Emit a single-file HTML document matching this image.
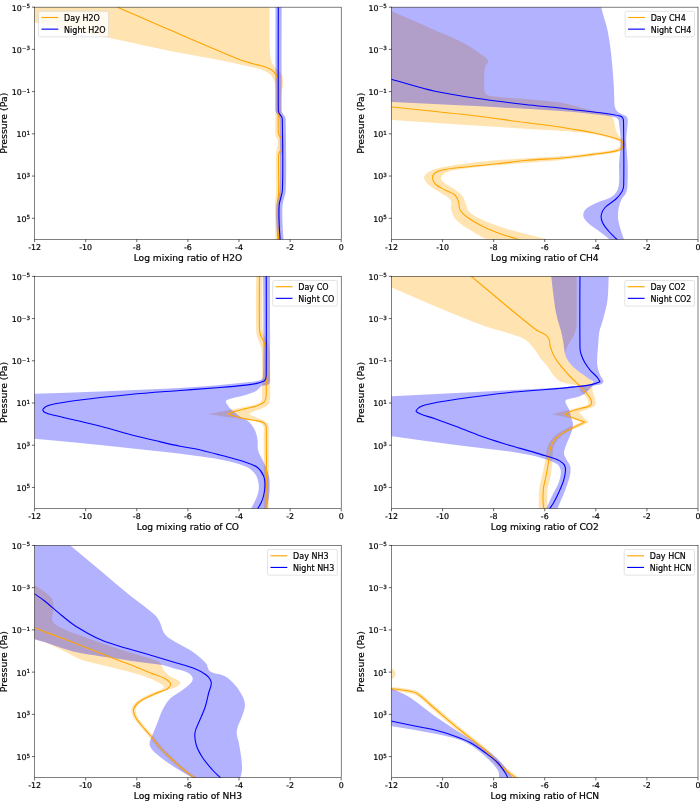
<!DOCTYPE html>
<html lang="en"><head><meta charset="utf-8"><title>Mixing ratio profiles</title>
<style>html,body{margin:0;padding:0;background:#fff}svg{display:block}text{font-family:'DejaVu Sans','Liberation Sans',sans-serif;fill:#000;stroke:#000;stroke-width:0.2px}</style></head><body>
<svg width="700" height="801" viewBox="0 0 700 801">
<rect width="700" height="801" fill="#fff"/>
<g>
<clipPath id="c0"><rect x="34.6" y="7.15" width="306.6" height="232.25"/></clipPath>
<g clip-path="url(#c0)">
<path d="M20 0L269.7 0C269.7 0 269.62 26.67 269.7 40C269.72 44 269.74 48.01 270 52C270.17 54.68 270.36 57.39 271 60C271.44 61.77 272.28 63.43 273.2 65C273.96 66.29 274.96 67.43 276 68.5C277.23 69.77 278.84 70.66 280 72C281.03 73.19 282.05 74.49 282.5 76C283.08 77.92 283 79.99 283 82C283 84.01 282.8 86.02 282.5 88C282.3 89.36 281.59 90.63 281.5 92C281.09 97.99 281.08 104 281 110C280.91 117.33 280.5 124.68 281 132C281.17 134.42 282.45 136.64 283 139C283.46 140.98 284 142.97 284 145C284 147.36 283.62 149.73 283 152C282.61 153.44 281.07 154.51 281 156C280.4 167.99 281.24 180 281 192C280.91 196.35 280 200.65 280 205C280 218.34 281 245 281 245L275.5 245C275.5 245 274.87 218.33 275 205C275.04 200.65 275.91 196.35 276 192C276.24 180 275.86 168 276 156C276.02 153.99 276.22 151.99 276.5 150C276.88 147.31 278.17 144.71 278 142C277.83 139.37 275.62 137.13 275.5 134.5C274.78 119.02 275.93 103.49 275.5 88C275.43 85.48 274.98 82.92 274 80.6C272.98 78.19 271.65 75.72 269.6 74.1C266.59 71.73 262.94 70.18 259.3 69C253.02 66.96 246.45 65.93 240 64.5C233.35 63.03 226.68 61.64 220 60.3C215.01 59.3 210 58.43 205 57.5C193.33 55.33 181.62 53.38 170 51C149.12 46.72 128.36 41.89 107.5 37.5C83.19 32.39 58.83 27.51 34.5 22.5C29.67 21.51 20 19.5 20 19.5L20 0Z" fill="#ffa500" fill-opacity="0.3"/>
<path d="M281.7 0C281.7 0 281.47 73.67 281.7 110.5C281.71 111.37 281.99 112.24 282.4 113C283.07 114.27 284.21 115.24 284.9 116.5C285.32 117.27 285.69 118.13 285.7 119C285.99 142.66 286.65 166.35 285.8 190C285.62 195.11 283.07 199.91 282.6 205C281.99 211.64 282.43 218.34 282.6 225C282.73 229.77 283.29 234.53 283.5 239.3C283.59 241.2 283.5 245 283.5 245L277.3 245C277.3 245 277.39 241.2 277.3 239.3C277.09 234.53 276.53 229.77 276.4 225C276.23 218.34 275.79 211.64 276.4 205C276.87 199.91 279.42 195.11 279.6 190C280.45 166.35 279.79 142.66 279.5 119C279.49 118.13 279.12 117.27 278.7 116.5C278.01 115.24 276.87 114.27 276.2 113C275.79 112.24 275.51 111.37 275.5 110.5C275.27 73.67 275.5 0 275.5 0L281.7 0Z" fill="#0000ff" fill-opacity="0.3"/>
<path d="M117.5 7.2C117.5 7.2 152.47 22.47 170 30C192.47 39.65 214.86 49.5 237.5 58.75C242.21 60.67 247.12 62.06 252 63.5C256.46 64.81 261.14 65.38 265.5 67C268.37 68.07 271.19 69.49 273.5 71.5C275.14 72.93 276.31 74.94 277 77C277.85 79.55 277.91 82.31 278 85C278.31 93.99 278.14 103 278.2 112C278.24 118.67 277.94 125.34 278.3 132C278.38 133.39 278.88 134.75 279.5 136C280.13 137.29 281.67 138.1 282 139.5C282.64 142.26 282.86 145.22 282.3 148C281.98 149.6 280.26 150.56 279.5 152C279.01 152.92 278.62 153.96 278.6 155C278.32 167.66 278.9 180.34 278.6 193C278.5 197.02 277.53 200.98 277.4 205C277.19 211.66 277.37 218.34 277.6 225C277.77 229.78 278.36 234.53 278.6 239.3C278.69 241.2 278.6 245 278.6 245" fill="none" stroke="#ffa500" stroke-width="1.1" stroke-linejoin="round"/>
<path d="M278.3 0C278.3 0 278.07 73.67 278.3 110.5C278.31 111.37 278.59 112.24 279 113C279.67 114.27 280.81 115.24 281.5 116.5C281.92 117.27 282.29 118.13 282.3 119C282.59 142.66 283.25 166.35 282.4 190C282.22 195.11 279.67 199.91 279.2 205C278.59 211.64 279.03 218.34 279.2 225C279.33 229.77 279.89 234.53 280.1 239.3C280.19 241.2 280.1 245 280.1 245" fill="none" stroke="#0000ff" stroke-width="1.1" stroke-linejoin="round"/>
</g>
<path d="M34.6 7.15h-2.7M34.6 49.38h-2.7M34.6 91.6h-2.7M34.6 133.83h-2.7M34.6 176.06h-2.7M34.6 218.29h-2.7M34.6 239.4v2.7M85.7 239.4v2.7M136.8 239.4v2.7M187.9 239.4v2.7M239 239.4v2.7M290.1 239.4v2.7M341.2 239.4v2.7" stroke="#000" stroke-width="0.6" fill="none"/>
<rect x="34.6" y="7.15" width="306.6" height="232.25" fill="none" stroke="#000" stroke-width="0.5"/>
<text x="30" y="10.55" font-size="7.9" text-anchor="end">10<tspan dy="-2.4" font-size="5.6">−5</tspan></text>
<text x="30" y="52.78" font-size="7.9" text-anchor="end">10<tspan dy="-2.4" font-size="5.6">−3</tspan></text>
<text x="30" y="95" font-size="7.9" text-anchor="end">10<tspan dy="-2.4" font-size="5.6">−1</tspan></text>
<text x="30" y="137.23" font-size="7.9" text-anchor="end">10<tspan dy="-2.4" font-size="5.6">1</tspan></text>
<text x="30" y="179.46" font-size="7.9" text-anchor="end">10<tspan dy="-2.4" font-size="5.6">3</tspan></text>
<text x="30" y="221.69" font-size="7.9" text-anchor="end">10<tspan dy="-2.4" font-size="5.6">5</tspan></text>
<text x="34.6" y="249.7" font-size="7.9" text-anchor="middle">-12</text>
<text x="85.7" y="249.7" font-size="7.9" text-anchor="middle">-10</text>
<text x="136.8" y="249.7" font-size="7.9" text-anchor="middle">-8</text>
<text x="187.9" y="249.7" font-size="7.9" text-anchor="middle">-6</text>
<text x="239" y="249.7" font-size="7.9" text-anchor="middle">-4</text>
<text x="290.1" y="249.7" font-size="7.9" text-anchor="middle">-2</text>
<text x="341.2" y="249.7" font-size="7.9" text-anchor="middle">0</text>
<text x="187.9" y="261" font-size="9.15" text-anchor="middle">Log mixing ratio of H2O</text>
<text transform="translate(7 123.28) rotate(-90)" font-size="9.35" text-anchor="middle">Pressure (Pa)</text>
<rect x="38.5" y="11.25" width="70.1" height="25.6" rx="1.5" ry="1.5" fill="#fff" fill-opacity="0.8" stroke="#d0d0d0" stroke-width="0.6"/>
<path d="M41.5 17.5h16.8" stroke="#ffa500" stroke-width="1.15" fill="none"/>
<text x="64.1" y="21" font-size="8.0">Day H2O</text>
<path d="M41.5 29.15h16.8" stroke="#0000ff" stroke-width="1.15" fill="none"/>
<text x="64.1" y="32.65" font-size="8.0">Night H2O</text>
</g>
<g>
<clipPath id="c1"><rect x="391.5" y="7.15" width="306.5" height="232.25"/></clipPath>
<g clip-path="url(#c1)">
<path d="M380 6.5C380 6.5 388.04 9.56 392 11.25C401.38 15.26 410.67 19.47 420 23.6C426.67 26.55 433.31 29.59 440 32.5C444.97 34.66 450.1 36.47 455 38.8C460.12 41.24 465.14 43.88 470 46.8C474.15 49.29 478.18 52.02 482 55C484.27 56.77 487.33 58.26 488.2 61C488.77 62.8 486.12 64.21 485.5 66C484.84 67.92 484.49 69.97 484.4 72C484.13 77.99 483.84 84.03 484.4 90C484.55 91.65 485.19 93.49 486.5 94.5C488.15 95.77 490.43 96.02 492.5 96.25C514.96 98.7 537.61 99.47 560 102.5C568.51 103.65 576.67 106.67 585 108.75C590 110 595.01 111.2 600 112.5C602.98 113.28 606.13 113.66 608.9 115C610.71 115.88 612.48 117.22 613.4 119C614.65 121.42 614.43 124.36 615.1 127C615.59 128.93 616 130.92 616.9 132.7C617.76 134.4 619.01 135.9 620.3 137.3C621.29 138.38 622.66 139.06 623.7 140.1C624.57 140.97 625.55 141.85 626 143C626.36 143.93 626.38 145.08 626 146C625.5 147.2 624.53 148.2 623.5 149C622.18 150.03 620.68 150.86 619.1 151.4C616.15 152.41 613.08 153.07 610 153.6C604.33 154.57 598.6 155.16 592.9 155.9C585.27 156.89 577.63 157.8 570 158.8C566.66 159.24 563.35 159.91 560 160.2C535.01 162.39 509.98 163.98 485 166.25C475.81 167.08 466.61 168.03 457.5 169.5C453.67 170.12 449.73 170.79 446.25 172.5C444.14 173.54 441.82 175.21 441.25 177.5C440.8 179.31 442.36 181.25 443.75 182.5C446.67 185.13 450.58 186.43 453.75 188.75C456.85 191.02 460.16 193.21 462.5 196.25C464.43 198.77 465.03 202.07 466.25 205C467.11 207.07 467.16 209.66 468.75 211.25C471.94 214.44 475.94 216.79 480 218.75C487.25 222.24 494.87 224.96 502.5 227.5C509.88 229.96 517.48 231.76 525 233.75C531.64 235.51 538.38 236.9 545 238.75C547.06 239.32 551 241 551 241L489 241C489 241 486.32 239.52 485 238.75C479.99 235.85 474.85 233.16 470 230C465.25 226.9 460.13 224.13 456.25 220C453.7 217.28 452.28 213.58 451.25 210C450.33 206.79 452.31 202.81 450.5 200C448.17 196.38 443.54 194.94 440 192.5C436.29 189.94 432.15 187.96 428.75 185C426.82 183.31 425.15 181.15 424.25 178.75C423.8 177.56 424.13 175.93 425 175C427.06 172.81 429.7 171.09 432.5 170C437.3 168.13 442.42 167.1 447.5 166.25C459.94 164.18 472.44 162.36 485 161.25C509.96 159.04 535 158.02 560 156.3C563.34 156.07 566.67 155.76 570 155.4C577.64 154.56 585.27 153.65 592.9 152.7C598.61 151.99 604.35 151.46 610 150.4C612.74 149.89 615.52 149.27 618 148C619.16 147.4 620.4 146.3 620.5 145C620.6 143.6 619.67 142.08 618.5 141.3C615.97 139.61 612.92 138.83 610 138C604.37 136.39 598.67 134.99 592.9 134C586.98 132.99 580.98 132.58 575 132C570.01 131.51 565.01 131.13 560 130.8C548.34 130.04 536.66 129.5 525 128.75C480.66 125.9 436.33 122.92 392 120C388 119.74 380 119.2 380 119.2L380 6.5Z" fill="#ffa500" fill-opacity="0.3"/>
<path d="M380 0L601.25 0C601.25 0 600.76 4.85 601.25 7.2C602.86 14.91 605.89 22.29 607.5 30C609.23 38.25 610.3 46.63 611.25 55C612.38 64.97 613.07 74.99 613.75 85C614.09 89.99 614.05 95 614.3 100C614.4 102.14 614.31 104.32 614.8 106.4C615.19 108.04 615.79 109.73 616.9 111C618.08 112.34 619.84 113.03 621.4 113.9C622.88 114.73 624.69 115.02 626 116.1C626.85 116.8 627.36 117.92 627.6 119C627.94 120.5 627.8 122.07 627.7 123.6C627.33 129.31 626.2 134.98 626.2 140.7C626.2 148.35 627.48 155.95 627.7 163.6C627.91 170.73 627.86 177.88 627.5 185C627.37 187.53 627.22 190.16 626.25 192.5C625.09 195.27 622.59 197.31 621.25 200C620.07 202.36 619.23 204.91 618.75 207.5C618.14 210.79 617.79 214.16 618 217.5C618.21 220.89 619.11 224.22 620 227.5C621.03 231.32 622.5 235 623.75 238.75C624 239.5 624.5 241 624.5 241L611 241C611 241 609.57 239.42 608.75 238.75C605.07 235.75 601.27 232.89 597.5 230C594.19 227.47 590.42 225.47 587.5 222.5C585.59 220.55 583.5 218.22 583.25 215.5C583.03 213.05 584.43 210.41 586.25 208.75C589.42 205.86 593.63 204.34 597.5 202.5C602.39 200.17 608.14 199.47 612.5 196.25C615.46 194.07 617.77 190.6 618.5 187C620.05 179.35 618.73 171.39 619.1 163.6C619.46 155.96 620.7 148.35 620.7 140.7C620.7 134.98 619.71 129.29 619.1 123.6C618.97 122.39 619.16 121.02 618.5 120C617.7 118.77 616.44 117.6 615 117.3C605.94 115.4 596.69 114.55 587.5 113.5C578.36 112.45 569.18 111.63 560 111C535.01 109.29 510.01 107.84 485 106.5C454.01 104.84 423 103.51 392 102C388 101.81 380 101.4 380 101.4L380 0Z" fill="#0000ff" fill-opacity="0.3"/>
<path d="M380 105.8C380 105.8 388 106.58 392 107C418.84 109.81 445.7 112.38 472.5 115.5C490.04 117.54 507.5 120.2 525 122.5C536.66 124.03 548.35 125.39 560 127C563.35 127.46 566.67 128.12 570 128.7C577.64 130.02 585.3 131.18 592.9 132.7C598.64 133.85 604.34 135.21 610 136.7C613.08 137.51 616.18 138.33 619.1 139.6C620.43 140.18 621.67 141.08 622.6 142.2C623.18 142.9 623.4 143.89 623.4 144.8C623.4 145.64 623.14 146.56 622.6 147.2C621.65 148.33 620.47 149.37 619.1 149.9C616.19 151.03 613.08 151.57 610 152.1C604.33 153.07 598.6 153.66 592.9 154.4C585.27 155.39 577.64 156.39 570 157.3C566.67 157.69 563.34 158.06 560 158.3C548.34 159.13 536.65 159.48 525 160.5C515.8 161.3 506.68 162.76 497.5 163.75C485.01 165.1 472.48 166.08 460 167.5C454.15 168.17 448.25 168.73 442.5 170C439.87 170.58 437.15 171.38 435 173C433.63 174.03 432.5 175.78 432.5 177.5C432.5 179.74 433.41 182.16 435 183.75C437.78 186.53 441.57 188.07 445 190C448.25 191.83 452.24 192.49 455 195C457.07 196.88 457.87 199.85 458.75 202.5C459.55 204.9 458.72 207.81 460 210C461.78 213.05 464.6 215.47 467.5 217.5C473 221.35 478.96 224.56 485 227.5C490.65 230.24 496.59 232.37 502.5 234.5C507.01 236.12 511.7 237.23 516.25 238.75C518.2 239.4 522 241 522 241" fill="none" stroke="#ffa500" stroke-width="1.1" stroke-linejoin="round"/>
<path d="M380 76C380 76 387.98 78.39 392 79.5C406.32 83.47 420.47 88.13 435 91.25C451.51 94.8 468.29 97.04 485 99.5C498.29 101.46 511.65 102.99 525 104.5C536.65 105.82 548.34 106.76 560 108C563.34 108.36 566.66 108.9 570 109.3C581.43 110.67 592.89 111.76 604.3 113.3C609.67 114.03 615.05 114.77 620.3 116.1C621.31 116.36 622.25 117.11 622.8 118C623.39 118.96 623.48 120.18 623.5 121.3C623.79 142.53 624.09 163.77 623.7 185C623.66 187.14 623.22 189.37 622.2 191.25C620.68 194.06 618.57 196.56 616.25 198.75C612.8 202.01 608.22 204.01 605 207.5C603.1 209.55 601.71 212.24 601.25 215C600.83 217.5 601.44 220.2 602.5 222.5C604 225.75 606.43 228.51 608.75 231.25C611.03 233.95 613.75 236.25 616.25 238.75C617 239.5 618.5 241 618.5 241" fill="none" stroke="#0000ff" stroke-width="1.1" stroke-linejoin="round"/>
</g>
<path d="M391.5 7.15h-2.7M391.5 49.38h-2.7M391.5 91.6h-2.7M391.5 133.83h-2.7M391.5 176.06h-2.7M391.5 218.29h-2.7M391.5 239.4v2.7M442.58 239.4v2.7M493.67 239.4v2.7M544.75 239.4v2.7M595.83 239.4v2.7M646.92 239.4v2.7M698 239.4v2.7" stroke="#000" stroke-width="0.6" fill="none"/>
<rect x="391.5" y="7.15" width="306.5" height="232.25" fill="none" stroke="#000" stroke-width="0.5"/>
<text x="386.9" y="10.55" font-size="7.9" text-anchor="end">10<tspan dy="-2.4" font-size="5.6">−5</tspan></text>
<text x="386.9" y="52.78" font-size="7.9" text-anchor="end">10<tspan dy="-2.4" font-size="5.6">−3</tspan></text>
<text x="386.9" y="95" font-size="7.9" text-anchor="end">10<tspan dy="-2.4" font-size="5.6">−1</tspan></text>
<text x="386.9" y="137.23" font-size="7.9" text-anchor="end">10<tspan dy="-2.4" font-size="5.6">1</tspan></text>
<text x="386.9" y="179.46" font-size="7.9" text-anchor="end">10<tspan dy="-2.4" font-size="5.6">3</tspan></text>
<text x="386.9" y="221.69" font-size="7.9" text-anchor="end">10<tspan dy="-2.4" font-size="5.6">5</tspan></text>
<text x="391.5" y="249.7" font-size="7.9" text-anchor="middle">-12</text>
<text x="442.58" y="249.7" font-size="7.9" text-anchor="middle">-10</text>
<text x="493.67" y="249.7" font-size="7.9" text-anchor="middle">-8</text>
<text x="544.75" y="249.7" font-size="7.9" text-anchor="middle">-6</text>
<text x="595.83" y="249.7" font-size="7.9" text-anchor="middle">-4</text>
<text x="646.92" y="249.7" font-size="7.9" text-anchor="middle">-2</text>
<text x="698" y="249.7" font-size="7.9" text-anchor="middle">0</text>
<text x="544.75" y="261" font-size="9.15" text-anchor="middle">Log mixing ratio of CH4</text>
<text transform="translate(363.9 123.28) rotate(-90)" font-size="9.35" text-anchor="middle">Pressure (Pa)</text>
<rect x="625.1" y="11.25" width="69.4" height="25.6" rx="1.5" ry="1.5" fill="#fff" fill-opacity="0.8" stroke="#d0d0d0" stroke-width="0.6"/>
<path d="M628.1 17.5h16.8" stroke="#ffa500" stroke-width="1.15" fill="none"/>
<text x="650.7" y="21" font-size="8.0">Day CH4</text>
<path d="M628.1 29.15h16.8" stroke="#0000ff" stroke-width="1.15" fill="none"/>
<text x="650.7" y="32.65" font-size="8.0">Night CH4</text>
</g>
<g>
<clipPath id="c2"><rect x="34.6" y="276.35" width="306.6" height="232.2"/></clipPath>
<g clip-path="url(#c2)">
<path d="M262.5 270C262.5 270 261.91 308.68 262.5 328C262.58 330.75 263.59 333.41 264.5 336C265.59 339.1 267.77 341.8 268.5 345C269.62 349.9 269.83 354.98 270 360C270.4 371.66 270.23 383.33 270.2 395C270.2 396.84 270.24 398.7 269.9 400.5C269.63 401.93 269.44 403.58 268.4 404.6C266.55 406.43 264.06 407.51 261.7 408.6C259.14 409.79 256.3 410.29 253.7 411.4C252.08 412.09 249.1 414 249.1 414C249.1 414 252.12 415.62 253.7 416.3C256.33 417.43 259.13 418.14 261.7 419.4C263.65 420.35 265.6 421.43 267.2 422.9C267.97 423.6 268.42 424.67 268.6 425.7C268.95 427.77 268.75 429.9 268.75 432C268.8 459.33 268.75 514 268.75 514L263.75 514C263.75 514 263.83 459.33 263.75 432C263.74 430.16 264.27 428.17 263.5 426.5C262.71 424.79 261.13 423.36 259.4 422.6C256.17 421.19 252.56 420.89 249.1 420.2C245.32 419.45 241.51 418.85 237.7 418.3C232.78 417.59 227.82 417.11 222.9 416.4C217.92 415.68 208 414 208 414C208 414 223.28 411.18 230.9 409.7C233.94 409.11 236.96 408.42 240 407.8C243.8 407.02 247.65 406.49 251.4 405.5C254.13 404.78 256.96 404.13 259.4 402.7C260.57 402.01 261.53 400.73 261.8 399.4C262.43 396.33 262.01 393.13 262 390C261.95 376.67 262.53 363.3 261.6 350C261.36 346.52 259.49 343.35 258.5 340C257.71 337.34 256.34 334.77 256.25 332C255.59 311.34 256.25 270 256.25 270L262.5 270Z" fill="#ffa500" fill-opacity="0.3"/>
<path d="M270 270C270 270 270.32 343.33 270 380C269.99 381.37 269.81 382.89 269 384C268.34 384.9 267.08 385.22 266 385.5C264.61 385.86 262.97 385.22 261.7 385.9C259.83 386.91 258.84 389.08 257.1 390.3C255.37 391.51 253.39 392.37 251.4 393.1C247.67 394.47 243.84 395.57 240 396.6C236.6 397.51 233.07 397.89 229.7 398.9C228.37 399.3 226.67 399.58 226 400.8C225.47 401.77 226.39 403.01 226.9 404C227.64 405.45 228.59 406.81 229.7 408C231.08 409.49 232.74 410.7 234.3 412C236.17 413.56 237.97 415.25 240 416.6C242.55 418.29 245.65 419.14 248 421.1C250.29 423.01 252.12 425.47 253.7 428C255.02 430.12 255.88 432.51 256.6 434.9C257.19 436.87 257.41 438.95 257.6 441C257.88 443.99 257.35 447.07 258 450C258.59 452.66 260.09 455.04 261.25 457.5C262.84 460.87 264.89 464.03 266.25 467.5C267.58 470.89 268.67 474.41 269.3 478C269.82 480.96 269.75 484 269.7 487C269.65 490.34 269.48 493.69 269 497C268.45 500.81 267.42 504.54 266.6 508.3C266.19 510.2 265.3 514 265.3 514L248 514C248 514 250.27 510.26 251.25 508.3C253.44 503.92 256 499.66 257.5 495C258.53 491.8 259.14 488.34 258.75 485C258.29 481.07 257.34 476.94 255 473.75C252.54 470.39 248.86 467.82 245 466.25C237.01 463 228.45 461.27 220 459.5C211.75 457.77 203.35 456.92 195 455.75C186.68 454.58 178.35 453.44 170 452.5C146.68 449.86 123.35 447.37 100 445C78.18 442.79 56.34 440.8 34.5 438.75C29.67 438.3 20 437.5 20 437.5L20 394.3C20 394.3 29.67 393.92 34.5 393.75C56.33 392.99 78.17 392.35 100 391.5C123.34 390.6 146.67 389.66 170 388.5C181.68 387.92 193.34 387.12 205 386.3C210.01 385.95 215 385.48 220 385C230 384.04 240.02 383.2 250 382C253.36 381.6 256.84 381.42 260 380.2C261.36 379.68 262.96 378.46 263 377C263.97 341.35 263 270 263 270L270 270Z" fill="#0000ff" fill-opacity="0.3"/>
<path d="M259.5 270C259.5 270 259.05 310.01 259.5 330C259.55 332.06 260.28 334.07 261 336C261.79 338.09 263.25 339.89 264 342C264.69 343.93 265.18 345.96 265.3 348C265.93 358.65 266.05 369.33 266.25 380C266.35 385 266.37 390 266.2 395C266.15 396.35 265.99 397.71 265.6 399C265.25 400.17 264.96 401.54 264 402.3C261.99 403.89 259.52 404.87 257.1 405.7C253.39 406.98 249.5 407.62 245.7 408.6C241.9 409.58 238.05 410.43 234.3 411.6C232.14 412.27 228 414.1 228 414.1C228 414.1 232.15 415.72 234.3 416.3C238.06 417.32 241.88 418.13 245.7 418.9C249.48 419.66 253.33 420.08 257.1 420.9C259.44 421.41 261.89 421.76 264 422.9C265.01 423.44 265.65 424.61 266 425.7C266.44 427.07 266.28 428.56 266.3 430C266.45 443.33 266.38 456.67 266.5 470C266.61 482.77 266.85 495.53 267 508.3C267.02 510.2 267 514 267 514" fill="none" stroke="#ffa500" stroke-width="1.1" stroke-linejoin="round"/>
<path d="M266.25 270C266.25 270 266.46 339.33 266.25 374C266.24 375.68 266.11 377.4 265.6 379C265.33 379.84 264.78 380.7 264 381.1C261.85 382.21 259.47 382.88 257.1 383.4C253.35 384.22 249.52 384.68 245.7 385.1C237.15 386.05 228.58 386.8 220 387.5C206.67 388.6 193.33 389.46 180 390.5C163.33 391.8 146.64 392.92 130 394.5C113.31 396.09 96.62 397.82 80 400C69.95 401.32 59.84 402.54 50 405C47.35 405.66 44.51 406.98 43 409.25C42.29 410.31 43.87 411.91 45 412.5C48.09 414.11 51.62 414.66 55 415.5C63.3 417.57 71.69 419.25 80 421.25C88.35 423.25 96.7 425.3 105 427.5C113.37 429.72 121.62 432.32 130 434.5C138.29 436.66 146.66 438.54 155 440.5C163.32 442.46 171.63 444.52 180 446.25C184.96 447.27 190.05 447.67 195 448.75C203.39 450.59 211.7 452.8 220 455C228.37 457.22 236.79 459.26 245 462C249.32 463.44 253.88 464.75 257.5 467.5C260.35 469.67 262.34 472.96 263.75 476.25C264.91 478.96 265 482.05 265 485C265 488.36 264.45 491.72 263.75 495C263.2 497.58 262.3 500.08 261.25 502.5C260.37 504.53 258.99 506.32 258 508.3C257.07 510.16 255.5 514 255.5 514" fill="none" stroke="#0000ff" stroke-width="1.1" stroke-linejoin="round"/>
</g>
<path d="M34.6 276.35h-2.7M34.6 318.57h-2.7M34.6 360.79h-2.7M34.6 403h-2.7M34.6 445.22h-2.7M34.6 487.44h-2.7M34.6 508.55v2.7M85.7 508.55v2.7M136.8 508.55v2.7M187.9 508.55v2.7M239 508.55v2.7M290.1 508.55v2.7M341.2 508.55v2.7" stroke="#000" stroke-width="0.6" fill="none"/>
<rect x="34.6" y="276.35" width="306.6" height="232.2" fill="none" stroke="#000" stroke-width="0.5"/>
<text x="30" y="279.75" font-size="7.9" text-anchor="end">10<tspan dy="-2.4" font-size="5.6">−5</tspan></text>
<text x="30" y="321.97" font-size="7.9" text-anchor="end">10<tspan dy="-2.4" font-size="5.6">−3</tspan></text>
<text x="30" y="364.19" font-size="7.9" text-anchor="end">10<tspan dy="-2.4" font-size="5.6">−1</tspan></text>
<text x="30" y="406.4" font-size="7.9" text-anchor="end">10<tspan dy="-2.4" font-size="5.6">1</tspan></text>
<text x="30" y="448.62" font-size="7.9" text-anchor="end">10<tspan dy="-2.4" font-size="5.6">3</tspan></text>
<text x="30" y="490.84" font-size="7.9" text-anchor="end">10<tspan dy="-2.4" font-size="5.6">5</tspan></text>
<text x="34.6" y="518.85" font-size="7.9" text-anchor="middle">-12</text>
<text x="85.7" y="518.85" font-size="7.9" text-anchor="middle">-10</text>
<text x="136.8" y="518.85" font-size="7.9" text-anchor="middle">-8</text>
<text x="187.9" y="518.85" font-size="7.9" text-anchor="middle">-6</text>
<text x="239" y="518.85" font-size="7.9" text-anchor="middle">-4</text>
<text x="290.1" y="518.85" font-size="7.9" text-anchor="middle">-2</text>
<text x="341.2" y="518.85" font-size="7.9" text-anchor="middle">0</text>
<text x="187.9" y="530.15" font-size="9.15" text-anchor="middle">Log mixing ratio of CO</text>
<text transform="translate(7 392.45) rotate(-90)" font-size="9.35" text-anchor="middle">Pressure (Pa)</text>
<rect x="272.7" y="280.45" width="64.6" height="25.6" rx="1.5" ry="1.5" fill="#fff" fill-opacity="0.8" stroke="#d0d0d0" stroke-width="0.6"/>
<path d="M275.7 286.7h16.8" stroke="#ffa500" stroke-width="1.15" fill="none"/>
<text x="298.3" y="290.2" font-size="8.0">Day CO</text>
<path d="M275.7 298.35h16.8" stroke="#0000ff" stroke-width="1.15" fill="none"/>
<text x="298.3" y="301.85" font-size="8.0">Night CO</text>
</g>
<g>
<clipPath id="c3"><rect x="391.5" y="276.35" width="306.5" height="232.2"/></clipPath>
<g clip-path="url(#c3)">
<path d="M380 270L576.6 270C576.6 270 576.77 303.33 576.6 320C576.57 323.04 576.61 326.12 576 329.1C575.43 331.88 574.36 334.56 573.1 337.1C571.88 339.56 569.9 341.58 568.6 344C567.42 346.2 566.59 348.57 565.7 350.9C565.32 351.91 564.71 352.93 564.8 354C564.92 355.33 565.6 356.57 566.3 357.7C568.02 360.49 569.78 363.29 572 365.7C574.38 368.29 577.23 370.42 580 372.6C582.57 374.63 585.41 376.3 588 378.3C589.61 379.54 591.83 380.42 592.6 382.3C593.39 384.25 592.04 386.5 592.2 388.6C592.34 390.45 593.01 392.22 593.5 394C593.97 395.72 594.71 397.36 595.1 399.1C595.44 400.61 596.11 402.21 595.7 403.7C595.31 405.12 594.17 406.36 592.9 407.1C590.45 408.53 587.55 409 584.9 410C582.95 410.73 579.1 412.3 579.1 412.3C579.1 412.3 582.02 415.84 583.7 417.4C585.3 418.89 588.9 421.4 588.9 421.4C588.9 421.4 586.36 423.54 584.9 424.3C581.94 425.85 578.73 426.88 575.7 428.3C571.86 430.11 567.85 431.67 564.3 434C561.7 435.71 559.39 437.91 557.4 440.3C555.72 442.32 554.07 444.56 553.4 447.1C552.43 450.82 552.9 454.77 552.6 458.6C552.3 462.4 552.07 466.21 551.6 470C551.27 472.69 550.73 475.35 550.2 478C549.4 482.01 547.91 485.92 547.6 490C547 497.98 547.5 514 547.5 514L538.9 514C538.9 514 538.45 497.98 539 490C539.28 485.93 540.52 481.98 541.4 478C541.99 475.32 542.84 472.69 543.4 470C544.18 466.22 544.77 462.41 545.4 458.6C545.91 455.54 546 452.4 546.8 449.4C547.54 446.63 548.45 443.82 550 441.4C551.67 438.8 553.86 436.49 556.3 434.6C559.81 431.88 563.73 429.7 567.7 427.7C571.36 425.85 575.43 424.93 579.1 423.1C579.72 422.79 580.3 421.4 580.3 421.4C580.3 421.4 574.97 419.85 572.3 419.1C569.64 418.35 566.99 417.54 564.3 416.9C560.12 415.91 551.7 414.2 551.7 414.2C551.7 414.2 560.09 412.1 564.3 411.1C565.99 410.7 567.71 410.42 569.4 410C573.05 409.09 576.69 408.14 580.3 407.1C582.59 406.44 585.09 406.18 587.1 404.9C587.98 404.34 588.44 403.04 588.3 402C588.05 400.15 587.1 398.4 586 396.9C584.4 394.71 581.97 393.23 580.3 391.1C579.18 389.67 579.21 387.31 577.7 386.3C575.39 384.76 572.38 384.72 569.7 384C566.68 383.19 563.44 383.02 560.6 381.7C558.39 380.67 556.49 378.95 554.9 377.1C551.88 373.57 549.73 369.38 546.9 365.7C545.09 363.34 542.8 361.37 541 359C538.82 356.13 537.29 352.79 535 350C531.93 346.26 529.05 342.13 525 339.5C520.51 336.58 515.08 335.43 510 333.75C501.74 331.01 493.17 329.25 485 326.25C468.15 320.07 451.57 313.15 435 306.25C420.57 300.24 406.33 293.76 392 287.5C387.99 285.75 380 282.2 380 282.2L380 270Z" fill="#ffa500" fill-opacity="0.3"/>
<path d="M608.75 270C608.75 270 608.66 290.06 607.5 300C606.71 306.79 604.61 313.38 602.9 320C601.91 323.85 600.18 327.5 599.4 331.4C598.64 335.18 598.61 339.06 598.3 342.9C597.84 348.6 597.24 354.29 597.1 360C597.04 362.67 597.13 365.39 597.7 368C598.31 370.77 599.47 373.4 600.6 376C601.37 377.78 603.14 379.18 603.4 381.1C603.55 382.21 602.71 383.51 601.7 384C598.88 385.36 595.32 384.75 592.6 386.3C589.79 387.9 588.24 391.1 585.7 393.1C584 394.44 582.04 395.49 580 396.2C575.54 397.74 570.71 398.11 566.3 399.8C565.62 400.06 565.26 401.08 565.4 401.8C565.76 403.69 566.86 405.37 567.7 407.1C568.19 408.11 569.05 408.94 569.4 410C570.19 412.4 570.45 414.95 571.1 417.4C571.61 419.32 572.69 421.12 572.9 423.1C573.1 425.03 572.74 427.01 572.3 428.9C571.76 431.23 570.86 433.47 570 435.7C568.96 438.4 567.64 440.99 566.6 443.7C565.73 445.96 564.78 448.22 564.3 450.6C564 452.07 563.93 453.65 564.3 455.1C564.72 456.76 565.77 458.2 566.6 459.7C567.67 461.64 569.2 463.34 570 465.4C570.56 466.84 570.66 468.45 570.6 470C570.5 472.52 570.18 475.07 569.5 477.5C568.07 482.6 566.22 487.57 564.3 492.5C562.22 497.84 559.71 503.01 557.5 508.3C556.71 510.18 555.3 514 555.3 514L544 514C544 514 545.42 510.16 546.25 508.3C548.25 503.83 550.36 499.41 552.5 495C554.53 490.81 557.15 486.88 558.75 482.5C559.98 479.14 560.73 475.57 560.9 472C560.98 470.27 560.22 468.58 559.5 467C559.03 465.96 558.34 464.94 557.4 464.3C555.31 462.87 552.96 461.83 550.6 460.9C547.61 459.72 544.5 458.87 541.4 458C537.63 456.94 533.84 455.89 530 455.1C523.37 453.73 516.71 452.42 510 451.5C493.37 449.22 476.65 447.65 460 445.5C437.31 442.57 414.67 439.34 392 436.25C388 435.7 380 434.6 380 434.6L380 396.9C380 396.9 388 396.46 392 396.25C448 393.33 504.02 390.7 560 387.5C566.69 387.12 573.37 386.44 580 385.5C584.38 384.88 589.71 385.76 593 382.8C594.67 381.3 589.76 379.68 588 378.3C585.42 376.28 582.57 374.63 580 372.6C577.23 370.42 574.38 368.29 572 365.7C569.78 363.29 567.86 360.58 566.3 357.7C565.36 355.96 564.98 353.95 564.6 352C564.01 349 563.91 345.92 563.4 342.9C562.75 339.05 562.04 335.19 561.1 331.4C560.14 327.55 558.68 323.84 557.7 320C556.65 315.87 555.62 311.72 555 307.5C553.47 297.14 552.36 286.72 551.25 276.3C551.03 274.21 551 270 551 270L608.75 270Z" fill="#0000ff" fill-opacity="0.3"/>
<path d="M464 270C464 270 468.8 274.24 471.25 276.3C484.14 287.15 497.01 298.02 510 308.75C518.27 315.58 526.52 322.43 535 329C536.54 330.19 538.3 331.06 540 332C541.87 333.03 544.05 333.56 545.7 334.9C547.16 336.09 548.4 337.66 549.1 339.4C549.97 341.56 549.65 344.06 550.3 346.3C551.19 349.41 552.18 352.54 553.7 355.4C555.64 359.05 558.07 362.44 560.6 365.7C563.41 369.32 566.56 372.67 569.7 376C572.66 379.14 575.85 382.05 578.9 385.1C580.52 386.72 582.18 388.29 583.7 390C585.68 392.23 587.8 394.38 589.4 396.9C590.5 398.63 591.7 400.55 591.7 402.6C591.7 403.97 590.6 405.34 589.4 406C586.97 407.34 584.06 407.52 581.4 408.3C577.6 409.42 573.73 410.36 570 411.7C568.22 412.34 564.9 414.2 564.9 414.2C564.9 414.2 570.51 416.87 573.4 418C577.18 419.47 584.9 422 584.9 422C584.9 422 578.77 425.07 575.7 426.6C571.9 428.5 567.93 430.1 564.3 432.3C561.04 434.28 557.75 436.35 555.1 439.1C553.26 441.01 552.05 443.52 551.1 446C550.13 448.55 549.84 451.31 549.4 454C548.91 457.02 548.75 460.08 548.3 463.1C547.7 467.08 547.01 471.05 546.25 475C545.41 479.35 544.07 483.61 543.5 488C542.98 491.97 542.95 496 543 500C543.03 502.78 543.45 505.54 543.75 508.3C543.95 510.21 544.5 514 544.5 514" fill="none" stroke="#ffa500" stroke-width="1.1" stroke-linejoin="round"/>
<path d="M580 270C580 270 579.66 322.4 580 348.6C580.03 350.53 580.48 352.47 581.1 354.3C582.03 357.06 583.15 359.78 584.6 362.3C586.23 365.14 588.19 367.8 590.3 370.3C592.37 372.75 595.02 374.66 597.1 377.1C598.27 378.48 600 381.7 600 381.7C600 381.7 594.37 384 591.4 384.6C585.76 385.74 580.01 386.23 574.3 386.9C568.58 387.57 562.84 388.08 557.1 388.6C551.4 389.11 545.7 389.53 540 390C530 390.83 519.98 391.41 510 392.5C493.3 394.33 476.62 396.31 460 398.75C448.27 400.47 436.45 401.93 425 405C421.67 405.89 417.96 407.51 416.25 410.5C415.43 411.94 418.49 413.08 420 413.75C424.82 415.87 430.04 416.98 435 418.75C443.37 421.73 451.68 424.88 460 428C468.35 431.13 476.59 434.56 485 437.5C493.26 440.39 501.62 442.97 510 445.5C516.63 447.5 523.35 449.17 530 451.1C533.82 452.21 537.59 453.45 541.4 454.6C545.23 455.75 549.12 456.7 552.9 458C555.23 458.8 557.59 459.62 559.7 460.9C561.44 461.95 563.21 463.19 564.3 464.9C565.24 466.37 565.56 468.25 565.5 470C565.38 473.38 564.72 476.76 563.75 480C562.46 484.3 560.57 488.4 558.75 492.5C557.24 495.91 555.56 499.24 553.75 502.5C552.63 504.51 551.23 506.35 550 508.3C548.81 510.19 546.5 514 546.5 514" fill="none" stroke="#0000ff" stroke-width="1.1" stroke-linejoin="round"/>
</g>
<path d="M391.5 276.35h-2.7M391.5 318.57h-2.7M391.5 360.79h-2.7M391.5 403h-2.7M391.5 445.22h-2.7M391.5 487.44h-2.7M391.5 508.55v2.7M442.58 508.55v2.7M493.67 508.55v2.7M544.75 508.55v2.7M595.83 508.55v2.7M646.92 508.55v2.7M698 508.55v2.7" stroke="#000" stroke-width="0.6" fill="none"/>
<rect x="391.5" y="276.35" width="306.5" height="232.2" fill="none" stroke="#000" stroke-width="0.5"/>
<text x="386.9" y="279.75" font-size="7.9" text-anchor="end">10<tspan dy="-2.4" font-size="5.6">−5</tspan></text>
<text x="386.9" y="321.97" font-size="7.9" text-anchor="end">10<tspan dy="-2.4" font-size="5.6">−3</tspan></text>
<text x="386.9" y="364.19" font-size="7.9" text-anchor="end">10<tspan dy="-2.4" font-size="5.6">−1</tspan></text>
<text x="386.9" y="406.4" font-size="7.9" text-anchor="end">10<tspan dy="-2.4" font-size="5.6">1</tspan></text>
<text x="386.9" y="448.62" font-size="7.9" text-anchor="end">10<tspan dy="-2.4" font-size="5.6">3</tspan></text>
<text x="386.9" y="490.84" font-size="7.9" text-anchor="end">10<tspan dy="-2.4" font-size="5.6">5</tspan></text>
<text x="391.5" y="518.85" font-size="7.9" text-anchor="middle">-12</text>
<text x="442.58" y="518.85" font-size="7.9" text-anchor="middle">-10</text>
<text x="493.67" y="518.85" font-size="7.9" text-anchor="middle">-8</text>
<text x="544.75" y="518.85" font-size="7.9" text-anchor="middle">-6</text>
<text x="595.83" y="518.85" font-size="7.9" text-anchor="middle">-4</text>
<text x="646.92" y="518.85" font-size="7.9" text-anchor="middle">-2</text>
<text x="698" y="518.85" font-size="7.9" text-anchor="middle">0</text>
<text x="544.75" y="530.15" font-size="9.15" text-anchor="middle">Log mixing ratio of CO2</text>
<text transform="translate(363.9 392.45) rotate(-90)" font-size="9.35" text-anchor="middle">Pressure (Pa)</text>
<rect x="624.8" y="280.45" width="69.7" height="25.6" rx="1.5" ry="1.5" fill="#fff" fill-opacity="0.8" stroke="#d0d0d0" stroke-width="0.6"/>
<path d="M627.8 286.7h16.8" stroke="#ffa500" stroke-width="1.15" fill="none"/>
<text x="650.4" y="290.2" font-size="8.0">Day CO2</text>
<path d="M627.8 298.35h16.8" stroke="#0000ff" stroke-width="1.15" fill="none"/>
<text x="650.4" y="301.85" font-size="8.0">Night CO2</text>
</g>
<g>
<clipPath id="c4"><rect x="34.6" y="545.45" width="306.6" height="232.25"/></clipPath>
<g clip-path="url(#c4)">
<path d="M20 575.6C20 575.6 29.67 581.86 34.5 585C37.77 587.13 41.2 589.03 44.3 591.4C46.85 593.35 49.52 595.3 51.4 597.9C52.72 599.73 53.38 602.06 53.6 604.3C53.89 607.16 53.2 610.04 52.9 612.9C52.7 614.81 51.85 616.7 52.1 618.6C52.34 620.41 52.9 622.43 54.3 623.6C57.64 626.4 61.71 628.26 65.7 630C72.67 633.04 79.95 635.32 87.1 637.9C91.85 639.62 96.63 641.23 101.4 642.9C106.17 644.57 110.91 646.29 115.7 647.9C120.45 649.49 125.21 651.03 130 652.5C138.32 655.06 146.75 657.25 155 660C156.77 660.59 158.77 661.1 160 662.5C161.84 664.6 162.11 667.74 163.75 670C165.48 672.38 167.62 674.52 170 676.25C172.26 677.89 175.15 678.49 177.5 680C178.69 680.76 180.95 681.66 180.5 683C179.75 685.25 177.13 686.47 175 687.5C171.87 689.02 168.24 689.22 165 690.5C161.88 691.73 159.03 693.55 156 695C151.36 697.22 146.26 698.62 142 701.5C139.45 703.22 137 705.59 136 708.5C135.18 710.88 135.99 713.69 137 716C138.39 719.18 140.82 721.81 143 724.5C145.82 727.98 149.11 731.07 152 734.5C155.44 738.58 158.45 743.01 162 747C165.13 750.52 168.59 753.74 172 757C176.09 760.91 180.18 764.84 184.5 768.5C188.19 771.62 192.16 774.37 196 777.3C198.5 779.2 203.5 783 203.5 783L199 783C199 783 194 779.19 191.5 777.3C187.84 774.53 184.05 771.92 180.5 769C176.21 765.48 172.06 761.79 168 758C164.55 754.78 161.13 751.52 158 748C154.45 744.01 151.39 739.62 148 735.5C145.22 732.12 142.21 728.93 139.5 725.5C137.21 722.6 134.58 719.85 133 716.5C131.84 714.05 130.69 711.09 131.5 708.5C132.52 705.22 135.24 702.55 138 700.5C142.55 697.12 147.9 694.97 153 692.5C156.49 690.8 160.7 690.41 163.75 688C164.6 687.33 163.39 685.62 162.5 685C158.64 682.33 154.37 680.23 150 678.5C143.49 675.92 136.73 674.04 130 672.1C125.29 670.74 120.46 669.78 115.7 668.6C110.93 667.42 106.17 666.2 101.4 665C96.63 663.8 91.85 662.67 87.1 661.4C84.72 660.76 82.29 660.22 80 659.3C77.54 658.31 75.27 656.89 72.9 655.7C68.14 653.32 63.41 650.89 58.6 648.6C53.87 646.35 49.18 644 44.3 642.1C41.13 640.86 37.76 640.18 34.5 639.2C29.66 637.75 20 634.8 20 634.8L20 575.6Z" fill="#ffa500" fill-opacity="0.3"/>
<path d="M20 540L63.5 540C63.5 540 67.85 543.51 70 545.3C80.02 553.61 90.02 561.95 100 570.3C110.02 578.68 119.87 587.26 130 595.5C138.2 602.17 147.14 607.93 155 615C157.23 617.01 158.66 619.81 160 622.5C161.59 625.68 161.88 629.47 163.75 632.5C165.29 635.01 167.55 637.12 170 638.75C176.36 642.99 183.51 645.95 190 650C193.53 652.21 196.82 654.81 200 657.5C202.25 659.4 204.52 661.37 206.25 663.75C207.89 666.01 207.67 669.7 210 671.25C214.39 674.17 220.38 673.71 225 676.25C228.88 678.38 232.08 681.67 235 685C237.97 688.39 240.48 692.22 242.5 696.25C243.86 698.96 245 701.97 245 705C245 708.44 243.59 711.74 242.5 715C241.08 719.26 238.82 723.21 237.5 727.5C236.88 729.51 236.58 731.66 236.75 733.75C237 736.73 238.19 739.56 238.75 742.5C239.69 747.48 240.66 752.47 241.25 757.5C241.74 761.65 242.16 765.83 242 770C241.91 772.48 240.97 774.86 240.5 777.3C240.14 779.19 239.5 783 239.5 783L198 783C198 783 193.59 779.08 191.25 777.3C190.08 776.41 188.76 775.76 187.5 775C183.34 772.49 179.07 770.15 175 767.5C170.74 764.73 166.51 761.87 162.5 758.75C159 756.03 155.4 753.35 152.5 750C150.99 748.25 149.5 746.06 149.5 743.75C149.5 740.67 151.41 737.89 152.5 735C154.08 730.8 155.83 726.67 157.5 722.5C159.17 718.33 160.41 713.97 162.5 710C164.6 706.01 166.81 701.94 170 698.75C173.6 695.15 178.46 693.09 182.5 690C185.55 687.67 188.85 685.5 191.25 682.5C192.32 681.16 193.1 679.11 192.5 677.5C191.67 675.29 189.61 673.55 187.5 672.5C183.61 670.55 179.17 670 175 668.75C170.83 667.5 166.73 666.01 162.5 665C160.05 664.42 157.5 664.33 155 664C146.67 662.9 138.33 661.84 130 660.7C125.23 660.04 120.46 659.32 115.7 658.6C110.93 657.88 106.17 657.12 101.4 656.4C96.64 655.68 91.85 655.13 87.1 654.3C82.34 653.47 77.58 652.58 72.9 651.4C68.07 650.18 63.33 648.64 58.6 647.1C53.8 645.54 49.1 643.67 44.3 642.1C41.06 641.04 37.76 640.18 34.5 639.2C29.66 637.75 20 634.8 20 634.8L20 540Z" fill="#0000ff" fill-opacity="0.3"/>
<path d="M20 622.7C20 622.7 29.71 625.91 34.5 627.7C42.58 630.71 50.55 634.01 58.6 637.1C68.08 640.74 77.62 644.25 87.1 647.9C91.89 649.75 96.63 651.7 101.4 653.6C106.17 655.5 110.91 657.47 115.7 659.3C120.44 661.11 125.28 662.64 130 664.5C136.72 667.14 143.31 670.08 150 672.8C154.98 674.83 160.26 676.22 165 678.75C167.19 679.92 169.9 681.35 170.5 683.75C170.97 685.64 169.13 687.7 167.5 688.75C163.73 691.18 159.09 691.89 155 693.75C149.91 696.06 144.57 698.03 140 701.25C137.34 703.13 134.78 705.66 133.75 708.75C132.95 711.15 133.94 713.95 135 716.25C136.5 719.5 139.01 722.2 141.25 725C144.02 728.46 147.16 731.6 150 735C153.42 739.1 156.45 743.51 160 747.5C163.13 751.02 166.57 754.26 170 757.5C174.08 761.35 178.19 765.16 182.5 768.75C186.12 771.77 190.02 774.43 193.75 777.3C196.19 779.18 201 783 201 783" fill="none" stroke="#ffa500" stroke-width="1.1" stroke-linejoin="round"/>
<path d="M20 584C20 584 29.68 590.59 34.5 593.9C37.78 596.15 41.18 598.24 44.3 600.7C49.22 604.58 53.77 608.91 58.6 612.9C63.3 616.78 67.91 620.8 72.9 624.3C77.43 627.48 82.25 630.23 87.1 632.9C91.76 635.47 96.5 637.93 101.4 640C106.05 641.97 110.9 643.44 115.7 645C120.43 646.54 125.22 647.91 130 649.3C136.66 651.24 143.35 653.05 150 655C158.35 657.45 166.68 659.96 175 662.5C181.68 664.54 188.51 666.16 195 668.75C198.98 670.34 202.98 672.23 206.25 675C208.54 676.94 210.83 679.53 211.25 682.5C211.74 685.9 209.58 689.17 208.75 692.5C207.5 697.5 206.63 702.61 205 707.5C203.29 712.64 200.76 717.47 198.75 722.5C197.43 725.81 195.39 728.96 195 732.5C194.54 736.66 195.05 740.99 196.25 745C197.59 749.46 199.96 753.59 202.5 757.5C205.41 761.97 208.97 766 212.5 770C214.81 772.61 217.49 774.88 220 777.3C221.99 779.21 226 783 226 783" fill="none" stroke="#0000ff" stroke-width="1.1" stroke-linejoin="round"/>
</g>
<path d="M34.6 545.45h-2.7M34.6 587.68h-2.7M34.6 629.9h-2.7M34.6 672.13h-2.7M34.6 714.36h-2.7M34.6 756.59h-2.7M34.6 777.7v2.7M85.7 777.7v2.7M136.8 777.7v2.7M187.9 777.7v2.7M239 777.7v2.7M290.1 777.7v2.7M341.2 777.7v2.7" stroke="#000" stroke-width="0.6" fill="none"/>
<rect x="34.6" y="545.45" width="306.6" height="232.25" fill="none" stroke="#000" stroke-width="0.5"/>
<text x="30" y="548.85" font-size="7.9" text-anchor="end">10<tspan dy="-2.4" font-size="5.6">−5</tspan></text>
<text x="30" y="591.08" font-size="7.9" text-anchor="end">10<tspan dy="-2.4" font-size="5.6">−3</tspan></text>
<text x="30" y="633.3" font-size="7.9" text-anchor="end">10<tspan dy="-2.4" font-size="5.6">−1</tspan></text>
<text x="30" y="675.53" font-size="7.9" text-anchor="end">10<tspan dy="-2.4" font-size="5.6">1</tspan></text>
<text x="30" y="717.76" font-size="7.9" text-anchor="end">10<tspan dy="-2.4" font-size="5.6">3</tspan></text>
<text x="30" y="759.99" font-size="7.9" text-anchor="end">10<tspan dy="-2.4" font-size="5.6">5</tspan></text>
<text x="34.6" y="788" font-size="7.9" text-anchor="middle">-12</text>
<text x="85.7" y="788" font-size="7.9" text-anchor="middle">-10</text>
<text x="136.8" y="788" font-size="7.9" text-anchor="middle">-8</text>
<text x="187.9" y="788" font-size="7.9" text-anchor="middle">-6</text>
<text x="239" y="788" font-size="7.9" text-anchor="middle">-4</text>
<text x="290.1" y="788" font-size="7.9" text-anchor="middle">-2</text>
<text x="341.2" y="788" font-size="7.9" text-anchor="middle">0</text>
<text x="187.9" y="799.3" font-size="9.15" text-anchor="middle">Log mixing ratio of NH3</text>
<text transform="translate(7 661.58) rotate(-90)" font-size="9.35" text-anchor="middle">Pressure (Pa)</text>
<rect x="267.5" y="549.55" width="69.8" height="25.6" rx="1.5" ry="1.5" fill="#fff" fill-opacity="0.8" stroke="#d0d0d0" stroke-width="0.6"/>
<path d="M270.5 555.8h16.8" stroke="#ffa500" stroke-width="1.15" fill="none"/>
<text x="293.1" y="559.3" font-size="8.0">Day NH3</text>
<path d="M270.5 567.45h16.8" stroke="#0000ff" stroke-width="1.15" fill="none"/>
<text x="293.1" y="570.95" font-size="8.0">Night NH3</text>
</g>
<g>
<clipPath id="c5"><rect x="391.5" y="545.45" width="306.5" height="232.25"/></clipPath>
<g clip-path="url(#c5)">
<path d="M380 685.3C380 685.3 388 686.47 392 687C398 687.8 404.06 688.18 410 689.3C412.92 689.85 416.04 690.33 418.5 692C425.01 696.42 430.5 702.2 436.5 707.3C444.83 714.37 453.07 721.55 461.5 728.5C469.74 735.29 478.5 741.44 486.5 748.5C492.69 753.96 497.9 760.44 504 766C508.09 769.72 512.7 772.82 517 776.3C519.7 778.49 525 783 525 783L519 783C519 783 514.97 780.03 513 778.5C508.97 775.37 504.76 772.44 501 769C494.91 763.43 489.69 756.96 483.5 751.5C475.5 744.44 466.73 738.3 458.5 731.5C450.06 724.53 441.82 717.31 433.5 710.2C427.82 705.35 422.55 699.98 416.5 695.6C414.63 694.25 412.26 693.67 410 693.2C404.06 691.96 398.01 691.36 392 690.5C388.01 689.93 380 688.9 380 688.9L380 685.3Z" fill="#ffa500" fill-opacity="0.3"/>
<path d="M380 668.5C380 668.5 388.04 668.05 392 668.6C393.04 668.74 393.9 669.64 394.5 670.5C395.16 671.44 395.6 672.61 395.6 673.75C395.6 674.89 395.16 676.06 394.5 677C393.9 677.86 393.04 678.76 392 678.9C388.04 679.45 380 679 380 679L380 668.5Z" fill="#ffa500" fill-opacity="0.3"/>
<path d="M380 683C380 683 388.01 686.82 392 688.75C398.01 691.65 404.38 693.91 410 697.5C418.78 703.11 426.54 710.17 435 716.25C439.88 719.76 444.97 722.96 450 726.25C455.8 730.05 461.67 733.75 467.5 737.5C473.33 741.25 479.4 744.66 485 748.75C490.25 752.59 495.48 756.56 500 761.25C504.7 766.13 508.4 771.9 512.5 777.3C513.9 779.15 516.5 783 516.5 783L498.75 783C498.75 783 499.51 775.92 498.75 772.5C498.22 770.13 496.57 768.1 495 766.25C491.95 762.65 488.52 759.38 485 756.25C481.01 752.7 476.97 749.16 472.5 746.25C468.59 743.71 464.42 741.47 460 740C451.85 737.28 443.42 735.45 435 733.75C420.74 730.87 406.34 728.74 392 726.25C388 725.56 380 724.2 380 724.2L380 683Z" fill="#0000ff" fill-opacity="0.3"/>
<path d="M380 687.1C380 687.1 388 688.2 392 688.75C398 689.58 404.06 690.08 410 691.25C412.59 691.76 415.34 692.24 417.5 693.75C423.79 698.16 429.15 703.76 435 708.75C443.32 715.85 451.56 723.04 460 730C468.23 736.79 477 742.94 485 750C491.19 755.46 496.4 761.95 502.5 767.5C506.42 771.06 510.86 774.01 515 777.3C517.36 779.17 522 783 522 783" fill="none" stroke="#ffa500" stroke-width="1.1" stroke-linejoin="round"/>
<path d="M380 718.8C380 718.8 388 720.42 392 721.25C398 722.49 403.99 723.78 410 725C418.33 726.69 426.76 727.94 435 730C441.78 731.69 448.42 733.9 455 736.25C460.1 738.07 465.24 739.92 470 742.5C475.28 745.36 480.14 748.97 485 752.5C489.32 755.64 493.73 758.73 497.5 762.5C500.45 765.45 502.67 769.05 505 772.5C506.01 773.99 506.79 775.64 507.5 777.3C508.29 779.15 509.5 783 509.5 783" fill="none" stroke="#0000ff" stroke-width="1.1" stroke-linejoin="round"/>
</g>
<path d="M391.5 545.45h-2.7M391.5 587.68h-2.7M391.5 629.9h-2.7M391.5 672.13h-2.7M391.5 714.36h-2.7M391.5 756.59h-2.7M391.5 777.7v2.7M442.58 777.7v2.7M493.67 777.7v2.7M544.75 777.7v2.7M595.83 777.7v2.7M646.92 777.7v2.7M698 777.7v2.7" stroke="#000" stroke-width="0.6" fill="none"/>
<rect x="391.5" y="545.45" width="306.5" height="232.25" fill="none" stroke="#000" stroke-width="0.5"/>
<text x="386.9" y="548.85" font-size="7.9" text-anchor="end">10<tspan dy="-2.4" font-size="5.6">−5</tspan></text>
<text x="386.9" y="591.08" font-size="7.9" text-anchor="end">10<tspan dy="-2.4" font-size="5.6">−3</tspan></text>
<text x="386.9" y="633.3" font-size="7.9" text-anchor="end">10<tspan dy="-2.4" font-size="5.6">−1</tspan></text>
<text x="386.9" y="675.53" font-size="7.9" text-anchor="end">10<tspan dy="-2.4" font-size="5.6">1</tspan></text>
<text x="386.9" y="717.76" font-size="7.9" text-anchor="end">10<tspan dy="-2.4" font-size="5.6">3</tspan></text>
<text x="386.9" y="759.99" font-size="7.9" text-anchor="end">10<tspan dy="-2.4" font-size="5.6">5</tspan></text>
<text x="391.5" y="788" font-size="7.9" text-anchor="middle">-12</text>
<text x="442.58" y="788" font-size="7.9" text-anchor="middle">-10</text>
<text x="493.67" y="788" font-size="7.9" text-anchor="middle">-8</text>
<text x="544.75" y="788" font-size="7.9" text-anchor="middle">-6</text>
<text x="595.83" y="788" font-size="7.9" text-anchor="middle">-4</text>
<text x="646.92" y="788" font-size="7.9" text-anchor="middle">-2</text>
<text x="698" y="788" font-size="7.9" text-anchor="middle">0</text>
<text x="544.75" y="799.3" font-size="9.15" text-anchor="middle">Log mixing ratio of HCN</text>
<text transform="translate(363.9 661.58) rotate(-90)" font-size="9.35" text-anchor="middle">Pressure (Pa)</text>
<rect x="624.2" y="549.55" width="70.3" height="25.6" rx="1.5" ry="1.5" fill="#fff" fill-opacity="0.8" stroke="#d0d0d0" stroke-width="0.6"/>
<path d="M627.2 555.8h16.8" stroke="#ffa500" stroke-width="1.15" fill="none"/>
<text x="649.8" y="559.3" font-size="8.0">Day HCN</text>
<path d="M627.2 567.45h16.8" stroke="#0000ff" stroke-width="1.15" fill="none"/>
<text x="649.8" y="570.95" font-size="8.0">Night HCN</text>
</g>
</svg></body></html>
